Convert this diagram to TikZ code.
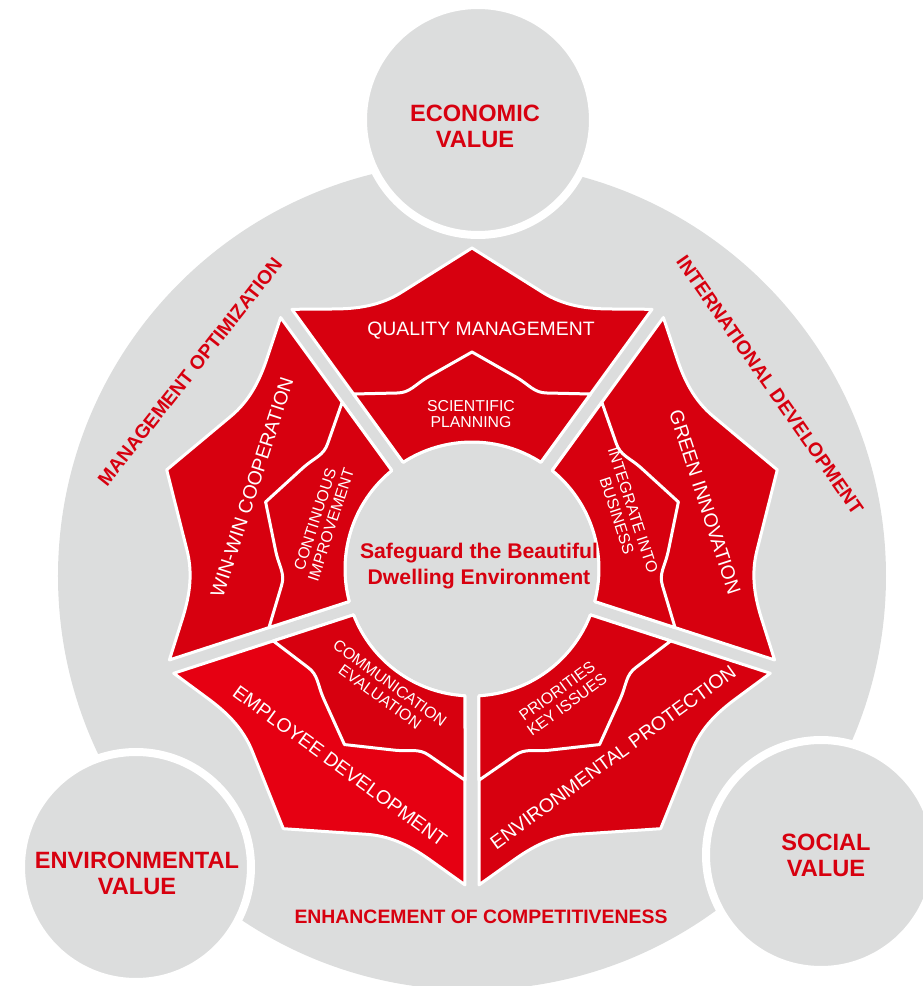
\documentclass[tikz,border=0pt]{standalone}
\usepackage{fontspec}
\setmainfont{Liberation Sans}
\definecolor{ringgray}{RGB}{220,221,221}
\definecolor{segred}{RGB}{215,0,15}
\definecolor{emplred}{RGB}{230,0,18}
\begin{document}
\begin{tikzpicture}[x=0.5pt, y=0.5pt,
    valuelabel/.style={text=segred, font=\fontsize{11.8}{13}\selectfont\bfseries, align=center, inner sep=0},
    ringlabel/.style={text=segred, font=\fontsize{9.7}{11}\selectfont\bfseries, inner sep=0},
    outertext/.style={text=white, font=\fontsize{9.7}{11}\selectfont, align=center, inner sep=0},
    innertext/.style={text=white, font=\fontsize{7.9}{8.4}\selectfont, align=center, inner sep=0},
    segline/.style={draw=white, line width=1.5pt, line join=round}]
    \useasboundingbox (-472,-417) rectangle (450,569);
    % big ring and the three value circles
    \fill [ringgray] (0,-7) circle (414);
    \filldraw [fill=ringgray, draw=white, line width=4pt] (6,449) circle (115);
    \filldraw [fill=ringgray, draw=white, line width=4pt] (-336,-298) circle (115);
    \filldraw [fill=ringgray, draw=white, line width=4pt] (349,-286) circle (115);
    % five red petals round the core
    \foreach \a/\c in {0/segred, 72/segred, 144/emplred, 216/segred, 288/segred} {
      \begin{scope}[rotate=\a]
        \filldraw [fill=\c, segline] (122.84:127) -- (124.73:316) -- (-140,260)
          .. controls (-115,260) and (-92,263) .. (-70,277) -- (0,321) -- (70,277)
          .. controls (92,263) and (115,260) .. (140,260) -- (55.27:316) -- (57.16:127)
          arc [start angle=57.16, end angle=122.84, radius=127] -- cycle;
        \filldraw [fill=segred, segline] (122.84:127) -- (-118.5,175) -- (-75,176)
          .. controls (-62,176) and (-57,184.5) .. (-44,192) -- (0,217) -- (44,192)
          .. controls (57,184.5) and (62,176) .. (75,176) -- (118.5,175) -- (57.16:127)
          arc [start angle=57.16, end angle=122.84, radius=127] -- cycle;
      \end{scope}
    }
    % labels
    \node (econ) [valuelabel] at (3,443) {ECONOMIC\\VALUE};
    \node (envi) [valuelabel] at (-335,-304) {ENVIRONMENTAL\\VALUE};
    \node (soci) [valuelabel] at (354,-286) {SOCIAL\\VALUE};
    \node (mgmt) [ringlabel, rotate=51.7] at (-282,197) {MANAGEMENT OPTIMIZATION};
    \node (intl) [ringlabel, rotate=-55] at (298,184) {INTERNATIONAL DEVELOPMENT};
    \node (comp) [ringlabel] at (9,-348) {ENHANCEMENT OF COMPETITIVENESS};
    \node (core) [text=segred, font=\fontsize{10.6}{12.8}\selectfont\bfseries, align=center, inner sep=0] at (7,3) {Safeguard the Beautiful\\Dwelling Environment};
    \node (qual) [outertext] at (9,238) {QUALITY MANAGEMENT};
    \node (plan) [innertext] at (-1,155) {SCIENTIFIC\\PLANNING};
    \node (coop) [outertext, rotate=72] at (-220,82) {WIN-WIN COOPERATION};
    \node (impr) [innertext, rotate=72] at (-149,47) {CONTINUOUS\\IMPROVEMENT};
    \node (gren) [outertext, rotate=-72] at (233,67) {GREEN INNOVATION};
    \node (intg) [innertext, rotate=-72] at (153,56) {INTEGRATE INTO\\BUSINESS};
    \node (empl) [outertext, rotate=-36] at (-132,-197) {EMPLOYEE DEVELOPMENT};
    \node (comm) [innertext, rotate=-36] at (-87,-121) {COMMUNICATION\\EVALUATION};
    \node (prot) [outertext, rotate=36] at (141,-188) {ENVIRONMENTAL PROTECTION};
    \node (prio) [innertext, rotate=36] at (90,-129) {PRIORITIES\\KEY ISSUES};
\end{tikzpicture}
\end{document}
